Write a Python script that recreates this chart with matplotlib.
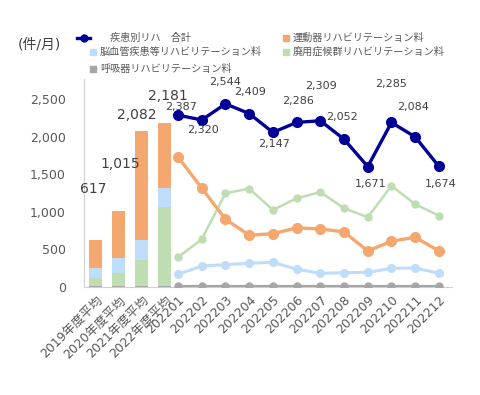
import numpy as np
import matplotlib
matplotlib.use("Agg")
import matplotlib.pyplot as plt
from matplotlib.lines import Line2D
from matplotlib.patches import Rectangle

plt.rcParams['font.family'] = ['DejaVu Sans', 'Noto Sans CJK JP']

# ─── data ────────────────────────────────────────────────────────────────
bar_cats = ['2019年度平均', '2020年度平均', '2021年度平均', '2022年度平均']
bar_total = [617, 1015, 2082, 2181]
bar_resp = [3, 12, 5, 5]
bar_haiyo = [113, 171, 351, 1057]
bar_nou = [137, 200, 267, 258]
bar_undo = [t - r - h - n for t, r, h, n in zip(bar_total, bar_resp, bar_haiyo, bar_nou)]

months = ['202201', '202202', '202203', '202204', '202205', '202206',
          '202207', '202208', '202209', '202210', '202211', '202212']
line_total = [2387, 2320, 2544, 2409, 2147, 2286, 2309, 2052, 1671, 2285, 2084, 1674]
line_undo = [1803, 1371, 939, 716, 738, 818, 804, 762, 497, 632, 688, 497]
line_haiyo = [410, 660, 1301, 1365, 1068, 1231, 1315, 1092, 967, 1403, 1148, 989]
line_nou = [173, 288, 307, 326, 340, 242, 187, 195, 200, 256, 260, 187]
line_resp = [4, 4, 4, 4, 4, 4, 4, 4, 4, 4, 4, 4]

names = ['疾患別リハ　合計', '運動器リハビリテーション料', '脳血管疾患等リハビリテーション料',
         '廃用症候群リハビリテーション料', '呼吸器リハビリテーション料']

# ─── style ───────────────────────────────────────────────────────────────
C_TOTAL = '#000096'
C_UNDO = '#F4A870'
C_NOU = '#BDDDFB'
C_HAIYO = '#BEDEB2'
C_RESP = '#A6A6A6'
C_TXT = '#595959'
C_LBL = '#404040'

W, H = 480, 395
fig = plt.figure(figsize=(W / 100, H / 100), dpi=100)
ax = fig.add_axes([84 / W, 1 - 286.7 / H, (452 - 84) / W, (286.7 - 79) / H])

bx = np.arange(len(bar_cats))
lx = np.linspace(3.59, 14.93, len(months))

# stacked bars (primary axis)
bottom = np.zeros(len(bar_cats))
for vals, col in [(bar_resp, C_RESP), (bar_haiyo, C_HAIYO), (bar_nou, C_NOU), (bar_undo, C_UNDO)]:
    ax.bar(bx, vals, width=0.53, bottom=bottom, color=col, zorder=2)
    bottom += np.array(vals)

# bar total labels
bar_off = [(-2, 51), (1.5, 47), (-5, 16), (3.5, 27)]
for x, v, (dx, dy) in zip(bx, bar_total, bar_off):
    ax.annotate(f'{v:,}', (x, v), xytext=(dx, dy), textcoords='offset pixels',
                ha='center', va='center', fontsize=10, color=C_LBL)

ax.set_xlim(-0.5, 15.5)
ax.set_ylim(0, 2770)
ax.set_yticks([0, 500, 1000, 1500, 2000, 2500])
ax.set_yticklabels([f'{v:,}' for v in [0, 500, 1000, 1500, 2000, 2500]])
ax.tick_params(axis='y', length=0, pad=13, labelsize=9, labelcolor=C_TXT)
ax.set_xticks(list(bx) + list(lx))
ax.set_xticklabels(bar_cats + months, rotation=45, ha='right', rotation_mode='anchor')
ax.tick_params(axis='x', length=0, pad=5, labelsize=9, labelcolor=C_TXT)
for s in ['top', 'right']:
    ax.spines[s].set_visible(False)
ax.spines['left'].set_color('#D0D0D0')
ax.spines['bottom'].set_color('#D0D0D0')

# lines (secondary axis)
ax2 = ax.twinx()
ax2.set_ylim(0, 2890)
ax2.axis('off')
ax2.plot(lx, line_resp, color=C_RESP, lw=1.6, marker='o', ms=5)
ax2.plot(lx, line_nou, color=C_NOU, lw=2.2, marker='o', ms=5.5)
ax2.plot(lx, line_haiyo, color=C_HAIYO, lw=1.8, marker='o', ms=5)
ax2.plot(lx, line_undo, color=C_UNDO, lw=2.4, marker='o', ms=7)
ax2.plot(lx, line_total, color=C_TOTAL, lw=2.4, marker='o', ms=7)

line_off = [(3, 8.4), (1, -10), (0, 22), (1, 22), (1, -11.6), (1, 21),
            (1, 35), (-2, 22), (3, -17), (0, 38), (-2, 30), (1.5, -18)]
for x, v, (dx, dy) in zip(lx, line_total, line_off):
    ax2.annotate(f'{v:,}', (x, v), xytext=(dx, dy), textcoords='offset pixels',
                 ha='center', va='center', fontsize=8, color=C_LBL)

# unit label
fig.text(18 / W, 1 - 45 / H, '(件/月)', fontsize=10, color=C_LBL, va='center', ha='left')

# legend (drawn by hand)
def fx(x):
    return x / W

def fy(y):
    return 1 - y / H

fig.add_artist(Line2D([fx(77), fx(90)], [fy(38), fy(38)], color=C_TOTAL, lw=2.4,
                      transform=fig.transFigure))
fig.add_artist(Line2D([fx(84)], [fy(38)], color=C_TOTAL, marker='o', ms=5,
                      transform=fig.transFigure))
fig.text(fx(110), fy(38), names[0], fontsize=7.3, color=C_TXT, va='center')

sq = 6.5
for (x, y), col, name in [((286, 38), C_UNDO, names[1]), ((93, 52), C_NOU, names[2]),
                          ((286, 52), C_HAIYO, names[3]), ((93, 69), C_RESP, names[4])]:
    fig.add_artist(Rectangle((fx(x - sq / 2), fy(y + sq / 2)), sq / W, sq / H,
                             color=col, transform=fig.transFigure))
    fig.text(fx(x + 7), fy(y), name, fontsize=7.3, color=C_TXT, va='center')

fig.savefig('out.png', dpi=100)
